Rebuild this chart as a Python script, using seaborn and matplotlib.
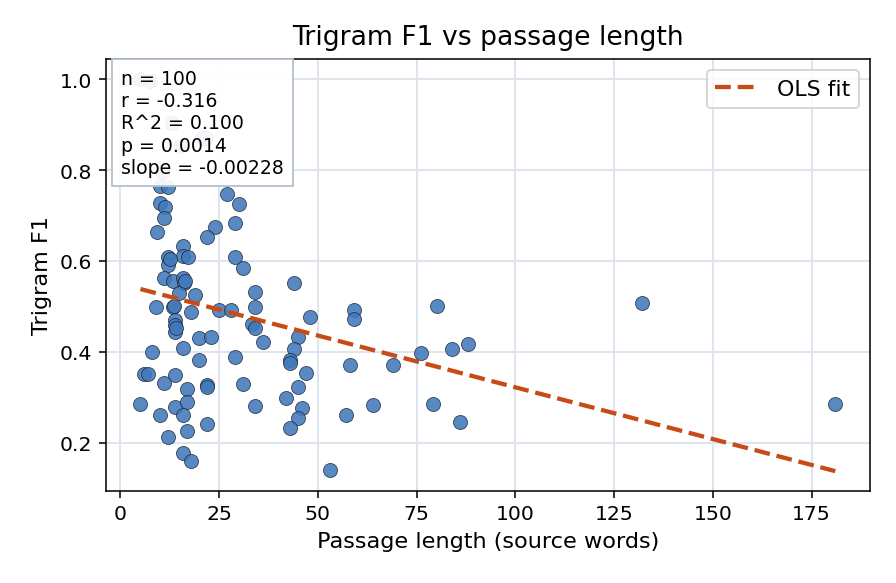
import numpy as np
import pandas as pd
import seaborn as sns
import matplotlib.pyplot as plt

# passage length (source words) and trigram F1
passage_len = [
    5.1, 7.6, 13.2, 15.2, 20.7, 10.6,
    10.1, 12.1, 10.1, 11.4, 11.1, 9.3, 27.0, 30.1, 29.1, 24.0, 22.0,
    15.9, 12.1, 15.9, 17.2, 12.1, 29.1, 31.1, 11.1, 13.4, 15.9, 16.2,
    44.0, 14.9, 19.0, 34.1, 9.1, 13.4, 13.6, 17.9, 25.0, 28.1, 34.1,
    13.9, 13.9, 13.9, 14.0, 33.4, 34.1, 36.2, 48.0, 45.0, 20.0, 23.0,
    44.0, 43.0, 43.0, 8.1, 15.9, 20.0, 29.1, 47.0, 6.1, 7.1, 13.9,
    11.1, 16.9, 22.0, 22.0, 31.1, 41.9, 45.0, 5.1, 13.9, 16.9, 15.9,
    10.1, 34.1, 46.0, 45.0, 43.0, 16.9, 22.0, 12.1, 15.9, 17.9,
    59.1, 59.1, 58.1, 69.0, 57.1, 63.9, 53.1,
    80.2, 132.0, 76.1, 84.0, 88.0, 79.2, 85.9, 181.0,
    12.6, 16.4, 21.8,
]
trigram_f1 = [
    1.001, 0.997, 0.905, 0.854, 0.872, 0.795,
    0.766, 0.762, 0.727, 0.718, 0.694, 0.665, 0.747, 0.725, 0.683, 0.676, 0.654,
    0.634, 0.608, 0.612, 0.608, 0.592, 0.608, 0.584, 0.562, 0.557, 0.562, 0.551,
    0.551, 0.529, 0.525, 0.531, 0.498, 0.498, 0.500, 0.487, 0.492, 0.492, 0.498,
    0.470, 0.459, 0.443, 0.452, 0.461, 0.452, 0.421, 0.476, 0.432, 0.430, 0.432,
    0.406, 0.382, 0.375, 0.399, 0.408, 0.383, 0.388, 0.353, 0.351, 0.351, 0.349,
    0.331, 0.318, 0.327, 0.322, 0.329, 0.298, 0.323, 0.285, 0.278, 0.289, 0.260,
    0.260, 0.281, 0.276, 0.254, 0.232, 0.225, 0.241, 0.212, 0.177, 0.159,
    0.492, 0.472, 0.371, 0.371, 0.260, 0.283, 0.139,
    0.501, 0.507, 0.398, 0.407, 0.417, 0.286, 0.246, 0.286,
    0.604, 0.555, 0.870,
]

# fit line and stats as printed in the chart
ols_slope = -0.00228
ols_intercept = 0.550
stats_lines = ["n = 100", "r = -0.316", "R^2 = 0.100", "p = 0.0014", "slope = -0.00228"]

df = pd.DataFrame({"length": passage_len, "f1": trigram_f1})

fig, ax = plt.subplots(figsize=(6.4, 4.17), dpi=140)
fig.subplots_adjust(left=0.118, right=0.971, top=0.897, bottom=0.158)

sns.scatterplot(data=df, x="length", y="f1", ax=ax, s=52, color="#4179bb",
                alpha=0.88, edgecolor="#1c2733", linewidth=0.4, zorder=3)

xs = np.array([df["length"].min(), df["length"].max()])
fit = pd.DataFrame({"length": xs, "f1": ols_intercept + ols_slope * xs})
sns.lineplot(data=fit, x="length", y="f1", ax=ax, color="#c84b17",
             linestyle="--", linewidth=2.2, label="OLS fit", zorder=4)

ax.grid(True, color="#dfe5ee", linewidth=1.0, zorder=0)
ax.set_axisbelow(True)
ax.set_title("Trigram F1 vs passage length", fontsize=13.7, pad=8)
ax.set_xlabel("Passage length (source words)", fontsize=11.5)
ax.set_ylabel("Trigram F1", fontsize=11.5)
ax.tick_params(labelsize=10.5)
ax.legend(loc="upper right", fontsize=11.3)

ax.text(0.02, 0.978, "\n".join(stats_lines), transform=ax.transAxes,
        ha="left", va="top", fontsize=9.7, linespacing=1.22, zorder=5,
        bbox=dict(boxstyle="square,pad=0.5", facecolor="white", alpha=0.93,
                  edgecolor="#b4c0cf"))

plt.savefig("out.png", dpi=140)
